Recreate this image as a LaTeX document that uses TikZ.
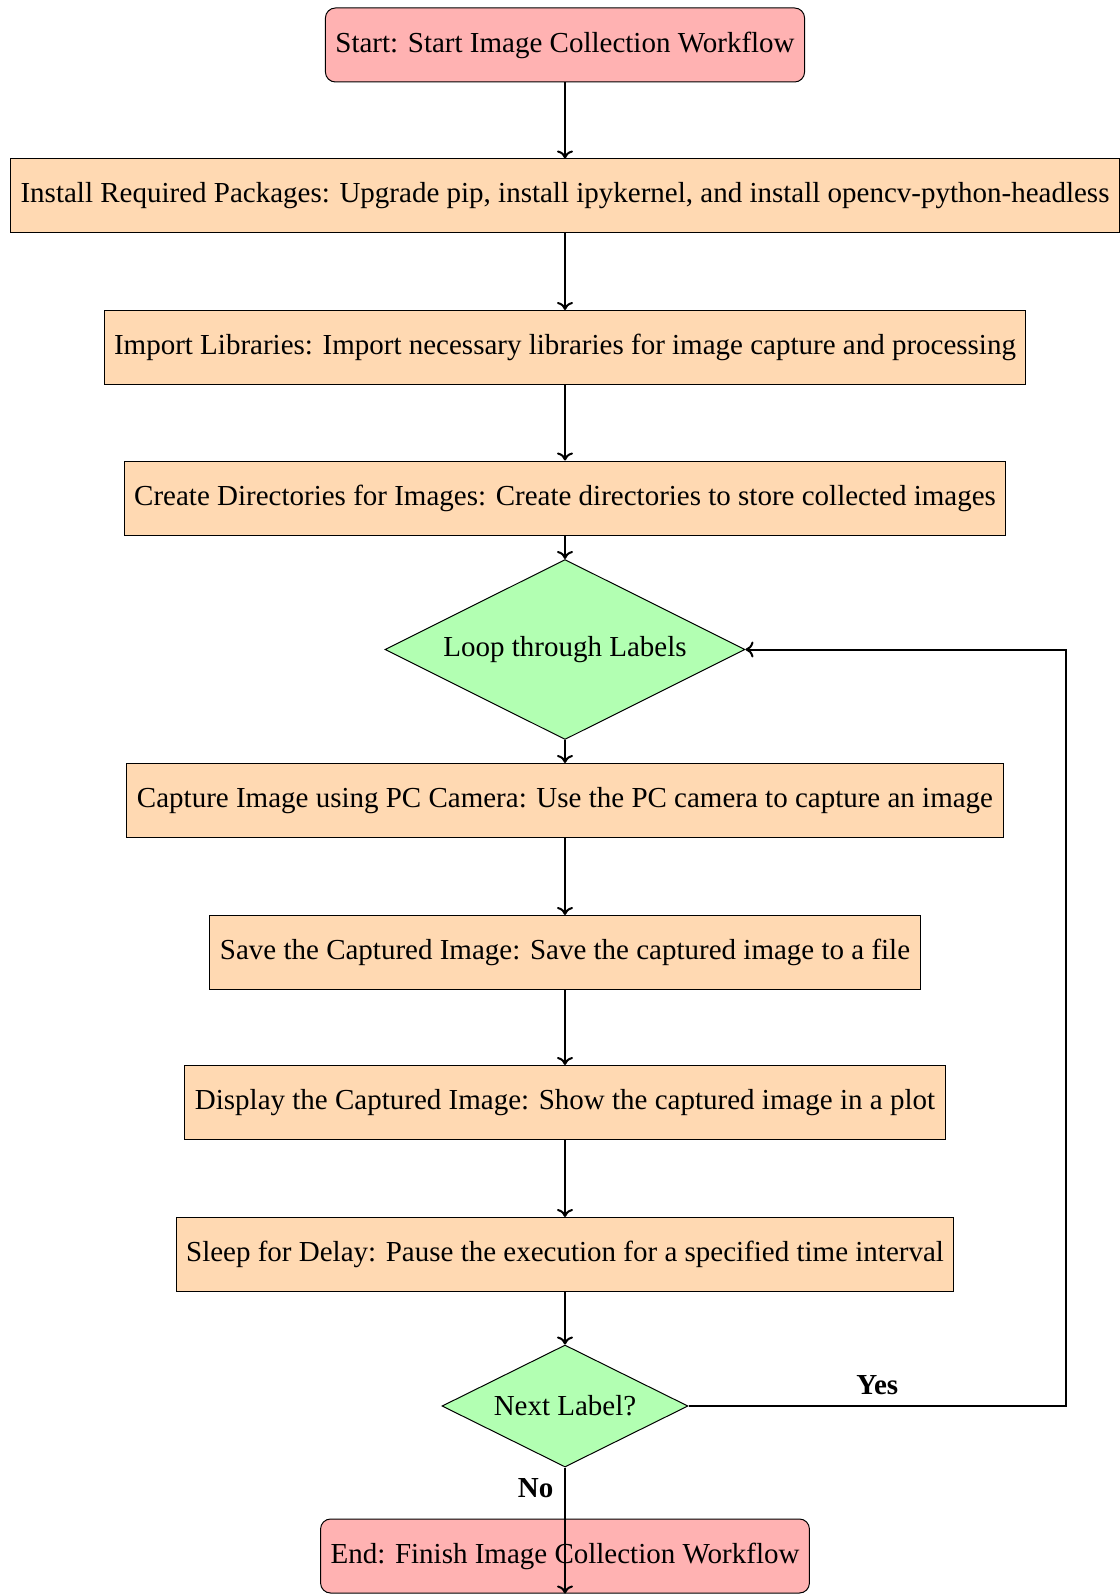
\documentclass[tikz,border=0pt]{standalone}
\usepackage{fontspec}
\setmainfont{Liberation Serif}
\usetikzlibrary{shapes.geometric,arrows.meta}
\begin{document}
\begin{tikzpicture}[x=0.5pt,y=-0.5pt,
  basebox/.style={draw, line width=0.5pt, minimum height=37pt, inner xsep=5pt,
    font=\fontsize{14.5}{17}\selectfont},
  termbox/.style={basebox, fill=red!30, rounded corners=5pt},
  procbox/.style={basebox, fill=orange!30},
  decbox/.style={draw, line width=0.5pt, diamond, aspect=2, fill=green!30, inner sep=0pt,
    font=\fontsize{14.5}{17}\selectfont},
  conn/.style={-{To[length=4pt,width=8pt]}, line width=1pt},
  edgelabel/.style={font=\fontsize{14.5}{17}\selectfont\bfseries}]
\useasboundingbox (0,0) rectangle (1119,1594);
\node[termbox] (start) at (565,45) {Start: Start Image Collection Workflow};
\node[procbox] (install) at (565,196) {Install Required Packages: Upgrade pip, install ipykernel, and install opencv-python-headless};
\node[procbox] (import) at (565,347.5) {Import Libraries: Import necessary libraries for image capture and processing};
\node[procbox] (create) at (565,498) {Create Directories for Images: Create directories to store collected images};
\node[decbox, minimum width=180pt, minimum height=90pt] (loop) at (565,649.5) {Loop through Labels};
\node[procbox] (capture) at (565,800.5) {Capture Image using PC Camera: Use the PC camera to capture an image};
\node[procbox] (save) at (565,952.5) {Save the Captured Image: Save the captured image to a file};
\node[procbox] (display) at (565,1102.5) {Display the Captured Image: Show the captured image in a plot};
\node[procbox] (sleep) at (565,1254.5) {Sleep for Delay: Pause the execution for a specified time interval};
\node[decbox, minimum width=123pt, minimum height=61pt] (next) at (565,1406) {Next Label?};
\node[termbox] (end) at (565,1556) {End: Finish Image Collection Workflow};
\coordinate (turn) at (1066,0);
\draw[conn] (start) -- (install);
\draw[conn] (install) -- (import);
\draw[conn] (import) -- (create);
\draw[conn] (create) -- (loop);
\draw[conn] (loop) -- (capture);
\draw[conn] (capture) -- (save);
\draw[conn] (save) -- (display);
\draw[conn] (display) -- (sleep);
\draw[conn] (sleep) -- (next);
\draw[conn] (next.east) -- node[above=2pt, edgelabel] {Yes} (next.east -| turn) |- (loop.east);
\draw[conn] (next.south) -- node[left=2pt, pos=0.16, edgelabel] {No} (end.south);
\end{tikzpicture}
\end{document}
